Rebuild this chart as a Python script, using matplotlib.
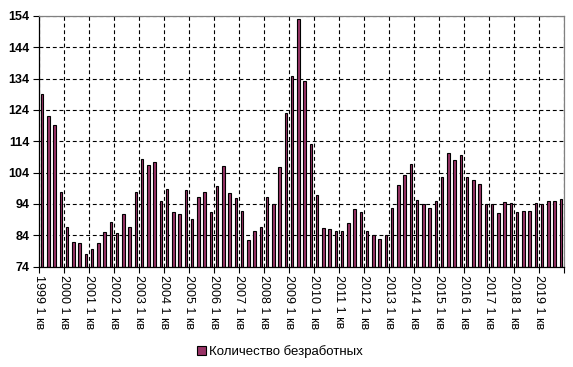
import matplotlib
matplotlib.use("Agg")
import matplotlib.pyplot as plt
import numpy as np

plt.rcParams['font.family'] = ['Liberation Sans', 'DejaVu Sans']

# quarterly values, 1999 Q1 .. 2019 Q4
years = list(range(1999, 2020))
values = [
    129.0, 122.1, 119.2, 97.8, 86.7, 81.8, 81.4, 77.9, 79.5, 81.4, 85.0, 88.3, 84.6, 90.8,
    86.7, 97.8, 108.4, 106.4, 107.3, 95.0, 98.8, 91.4, 90.8, 98.5, 89.2, 96.1, 97.8, 91.4,
    99.7, 106.1, 97.5, 95.9, 91.8, 82.5, 85.4, 86.7, 96.2, 93.9, 105.8, 123.0, 134.7, 153.0,
    133.3, 113.0, 96.9, 86.3, 86.0, 85.4, 85.4, 87.9, 92.4, 91.4, 85.4, 84.1, 82.8, 84.1,
    92.7, 100.1, 103.3, 106.8, 95.3, 94.0, 92.7, 95.0, 102.6, 110.3, 108.0, 109.6, 102.6, 101.7,
    100.4, 94.0, 94.0, 91.1, 94.6, 94.3, 91.4, 91.8, 91.8, 94.3, 94.0, 95.0, 95.0, 95.6,
]
year_labels = [f"{y} 1 кв" for y in years]
series_name = "Количество безработных"
yticks = [74, 84, 94, 104, 114, 124, 134, 144, 154]

fig = plt.figure(figsize=(5.73, 3.67), dpi=100)
ax = fig.add_axes([39 / 573, 1 - 266.5 / 367, 525 / 573, 250.5 / 367])

x = np.arange(len(values))
ax.bar(x, np.array(values) - 74, bottom=74, width=0.42, color='#993366',
       edgecolor='black', linewidth=0.8, zorder=3, label=series_name)

ax.set_xlim(-0.5, len(values) - 0.5)
ax.set_ylim(74, 154)

# y axis
ax.set_yticks(yticks)
ax.set_yticklabels([str(v) for v in yticks], fontsize=9, fontweight='bold')

# x axis: tick every 4 quarters on category boundaries
xt = [4 * k - 0.5 for k in range(len(years) + 1)]
ax.set_xticks(xt)
ax.set_xticklabels(year_labels + [''], rotation=-90, fontsize=9, va='top', ha='center')
ax.tick_params(axis='both', direction='out', length=4, width=0.8, color='black')
ax.tick_params(axis='x', pad=2)
ax.tick_params(axis='y', pad=3)

ax.grid(True, color='black', linestyle=(0, (3.5, 2.5)), linewidth=0.8, zorder=0)
ax.set_axisbelow(True)

ax.spines['left'].set_color('black')
ax.spines['bottom'].set_color('black')
ax.spines['top'].set_color('#808080')
ax.spines['right'].set_color('#808080')
for s in ax.spines.values():
    s.set_linewidth(0.9)
    s.set_zorder(4)

fig.legend(loc='center left', bbox_to_anchor=(197 / 573, 1 - 352 / 367), frameon=False,
           fontsize=9.5, handlelength=0.7, handleheight=0.7, handletextpad=0.2,
           borderaxespad=0, borderpad=0)

fig.savefig("out.png", dpi=100)
